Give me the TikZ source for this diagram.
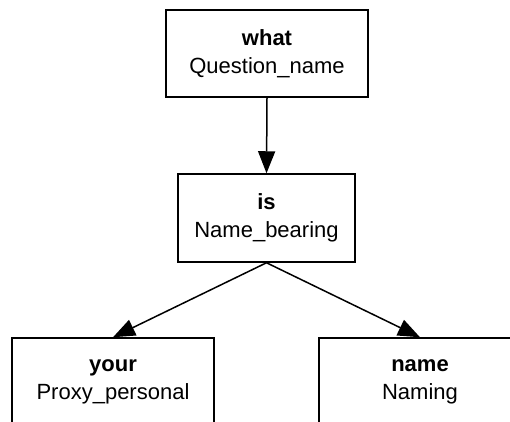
\documentclass[tikz,border=0pt]{standalone}
\usepackage{fontspec}
\setmainfont{Liberation Sans}
\usetikzlibrary{arrows.meta}

\tikzset{
  word/.style={draw, line width=1.5pt, minimum width=202pt, minimum height=87pt,
    inner sep=0pt, align=center, font=\fontsize{22}{28}\selectfont},
  link/.style={line width=1.5pt, -{Triangle[length=22pt,width=17pt]}}
}

\begin{document}
\begin{tikzpicture}[x=1pt,y=-1pt]
    \useasboundingbox (0,0) rectangle (510,421);
    % Question word
    \node[word] (what) at (267,53.5) {\textbf{what}\\Question\_name};
    % Verb
    \node[word, minimum width=177pt, minimum height=88pt] (is) at (266.5,218) {\textbf{is}\\Name\_bearing};
    % Dependents
    \node[word] (your) at (113,381.5) {\textbf{your}\\Proxy\_personal};
    \node[word] (name) at (420,381.5) {\textbf{name}\\Naming};
    % Links
    \draw[link] (what.south) -- (is.north);
    \draw[link] (is.south) -- (your.north);
    \draw[link] (is.south) -- (name.north);
\end{tikzpicture}
\end{document}
